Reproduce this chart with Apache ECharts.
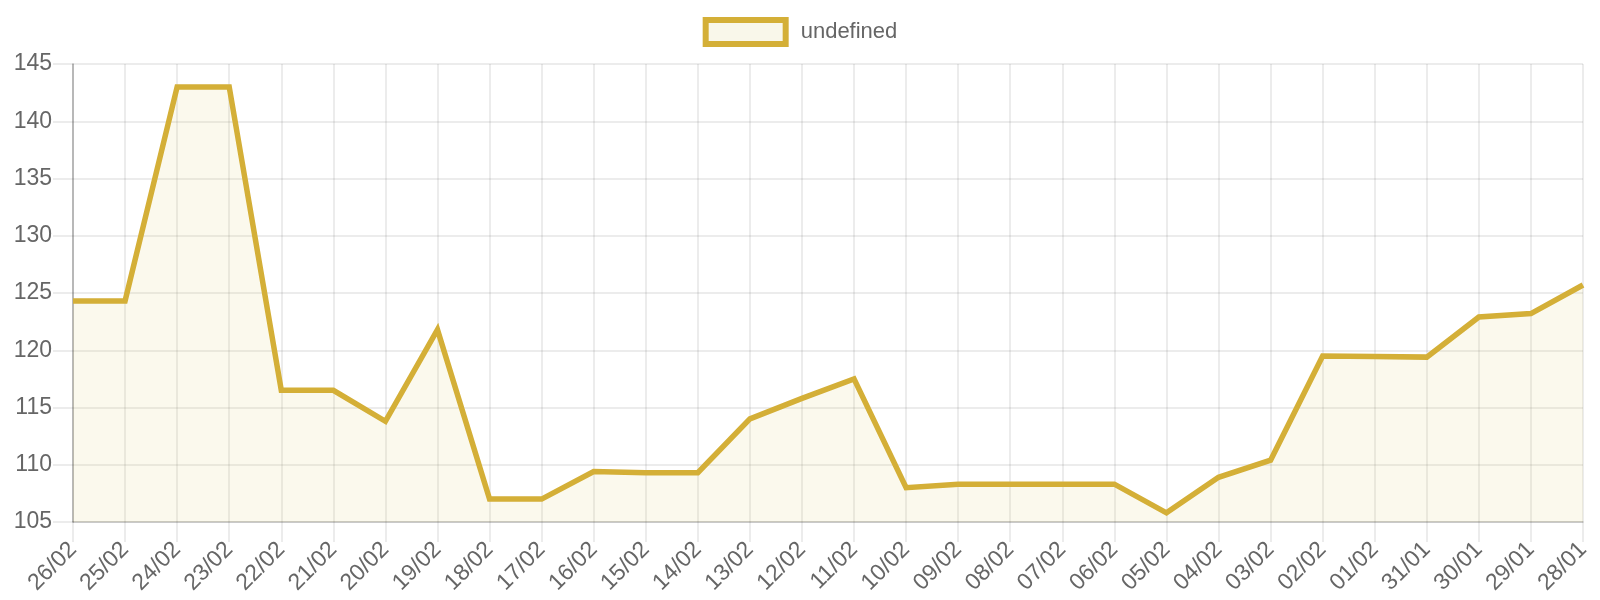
<!DOCTYPE html>
<html>
<head>
<meta charset="utf-8">
<script src="https://cdn.jsdelivr.net/npm/echarts@6/dist/echarts.min.js"></script>
<style>
  html, body { margin: 0; padding: 0; background: #fff; }
  #chart { width: 1600px; height: 600px; }
</style>
</head>
<body>
<div id="chart"></div>
<script>
// dates as shown on the axis (newest first)
const dates = [
  '26/02', '25/02', '24/02', '23/02', '22/02', '21/02', '20/02', '19/02', '18/02', '17/02',
  '16/02', '15/02', '14/02', '13/02', '12/02', '11/02', '10/02', '09/02', '08/02', '07/02',
  '06/02', '05/02', '04/02', '03/02', '02/02', '01/02', '31/01', '30/01', '29/01', '28/01'
];
const values = [
  124.3, 124.3, 143.0, 143.0, 116.5, 116.5, 113.8, 121.8, 107.0, 107.0,
  109.4, 109.3, 109.3, 114.0, 115.8, 117.5, 108.0, 108.3, 108.3, 108.3,
  108.3, 105.8, 108.9, 110.4, 119.5, 119.45, 119.4, 122.9, 123.2, 125.7
];
const seriesName = 'undefined';

const chart = echarts.init(document.getElementById('chart'));

const gridColor = 'rgba(0,0,0,0.1)';
const labelStyle = { color: '#666', fontSize: 23, fontFamily: 'Arial' };

chart.setOption({
  animation: false,
  textStyle: { fontFamily: 'Arial' },
  legend: {
    top: 17,
    left: 'center',
    padding: 0,
    itemWidth: 80,
    itemHeight: 24,
    icon: 'rect',
    data: [{
      name: seriesName,
      itemStyle: { color: '#f9f7ea', borderColor: '#d4af37', borderWidth: 6 }
    }],
    textStyle: { color: '#666', fontSize: 22, padding: [0, 0, 0, 10] }
  },
  grid: { left: 73, right: 17, top: 64, bottom: 78 },
  xAxis: {
    type: 'category',
    data: dates,
    boundaryGap: false,
    axisLine: { lineStyle: { color: 'rgba(0,0,0,0.2)', width: 1.5 } },
    axisTick: { show: true, length: 20, lineStyle: { color: gridColor, width: 1.5 } },
    axisLabel: { ...labelStyle, rotate: 45, margin: 24, interval: 0 },
    splitLine: { show: true, lineStyle: { color: gridColor, width: 1.5 } }
  },
  yAxis: {
    type: 'value',
    min: 105,
    max: 145,
    interval: 5,
    axisLine: { show: true, lineStyle: { color: 'rgba(0,0,0,0.3)', width: 1.5 } },
    axisTick: { show: true, length: 20, lineStyle: { color: gridColor, width: 1.5 } },
    axisLabel: { ...labelStyle, margin: 21 },
    splitLine: { show: true, lineStyle: { color: gridColor, width: 1.5 } }
  },
  series: [{
    name: seriesName,
    type: 'line',
    data: values,
    showSymbol: false,
    symbol: 'none',
    lineStyle: { color: '#d4af37', width: 5.5, join: 'miter' },
    itemStyle: { color: '#d4af37' },
    areaStyle: { color: 'rgba(212,180,50,0.12)' }
  }]
});
</script>
</body>
</html>
